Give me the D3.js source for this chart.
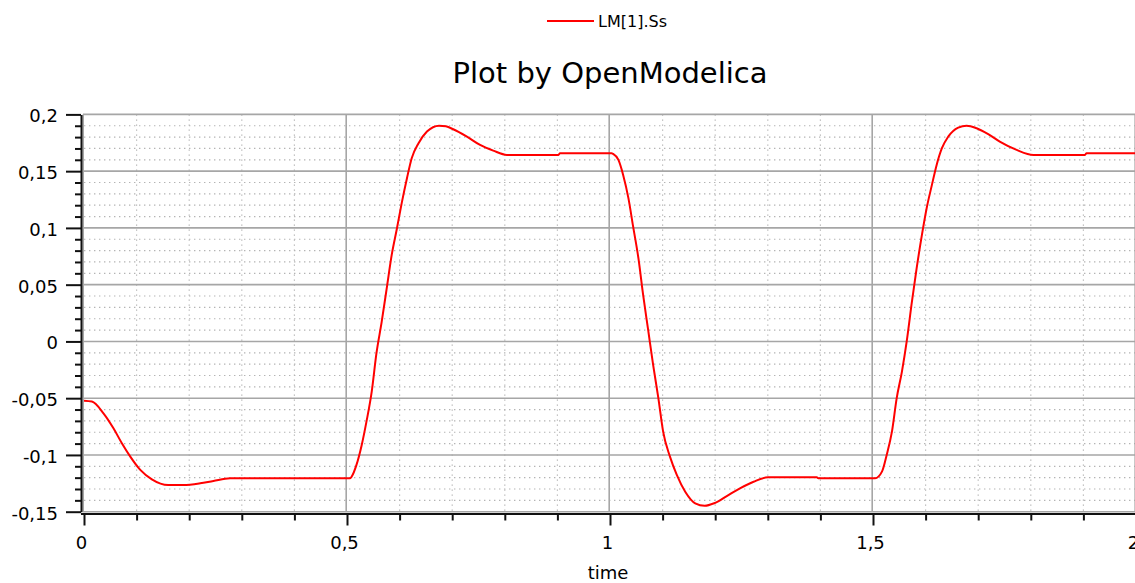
<!DOCTYPE html>
<html>
<head>
<meta charset="utf-8">
<script src="https://cdn.jsdelivr.net/npm/d3@7"></script>
<style>
  html, body { margin: 0; padding: 0; background: #fff; }
  svg { display: block; }
  text { font-family: "DejaVu Sans", Verdana, sans-serif; fill: #000; }
</style>
</head>
<body>
<svg id="chart" width="1135" height="583"></svg>
<script>
// Simulation output: LM[1].Ss over time
const time = [
  0, 0.015, 0.037, 0.056, 0.072, 0.088, 0.107, 0.129, 0.160, 0.189, 0.221, 0.246, 0.278, 0.40, 0.506,
  0.509, 0.518, 0.528, 0.537, 0.547, 0.556, 0.566, 0.576, 0.585, 0.595, 0.604, 0.614, 0.623, 0.636, 0.652,
  0.675, 0.688, 0.702, 0.728, 0.753, 0.778, 0.804, 0.85, 0.902, 0.905, 0.95, 1.003,
  1.006, 1.016, 1.025, 1.035, 1.044, 1.054, 1.063, 1.073, 1.082, 1.092, 1.101, 1.114, 1.127, 1.143, 1.162,
  1.180, 1.198, 1.222, 1.247, 1.273, 1.301, 1.35, 1.393, 1.396, 1.45, 1.504,
  1.517, 1.526, 1.536, 1.545, 1.555, 1.564, 1.574, 1.583, 1.593, 1.602, 1.612, 1.621, 1.631, 1.643, 1.662,
  1.678, 1.697, 1.719, 1.741, 1.773, 1.805, 1.85, 1.903, 1.906, 1.95, 2.0
];
const ss = [
  -0.0522, -0.053, -0.0633, -0.0765, -0.0897, -0.1015, -0.1132, -0.1215, -0.1265, -0.1265, -0.125, -0.1229, -0.1206, -0.1206, -0.1206,
  -0.119, -0.1088, -0.0912, -0.0707, -0.0442, -0.0104, 0.0174, 0.0483, 0.0762, 0.0997, 0.1218, 0.1438, 0.1614, 0.1746, 0.1849,
  0.1901, 0.1895, 0.1869, 0.1804, 0.1731, 0.1681, 0.1643, 0.1643, 0.1643, 0.1658, 0.1658, 0.1658,
  0.1652, 0.1599, 0.1467, 0.1262, 0.1011, 0.0733, 0.041, 0.0086, -0.0207, -0.0501, -0.0795, -0.1015, -0.1176, -0.1324, -0.1426,
  -0.1448, -0.1426, -0.1362, -0.1294, -0.1236, -0.1197, -0.1197, -0.1197, -0.1206, -0.1206, -0.1206,
  -0.1147, -0.100, -0.0795, -0.0501, -0.0266, -0.0002, 0.035, 0.0645, 0.0938, 0.1173, 0.1379, 0.1555, 0.1702, 0.1804, 0.1884,
  0.1901, 0.1878, 0.1826, 0.176, 0.1687, 0.1643, 0.1643, 0.1643, 0.1658, 0.1658, 0.1658
];

const xTicks = [0, 0.5, 1, 1.5, 2];
const xTickLabels = ["0", "0,5", "1", "1,5", "2"];
const yTicks = [-0.15, -0.1, -0.05, 0, 0.05, 0.1, 0.15, 0.2];
const yTickLabels = ["-0,15", "-0,1", "-0,05", "0", "0,05", "0,1", "0,15", "0,2"];
const xMinorStep = 0.1;
const yMinorStep = 0.01;

const seriesName = "LM[1].Ss";
const titleText = "Plot by OpenModelica";
const xTitle = "time";

// ---- layout ----
const plot = { left: 84, right: 1136, top: 114.4, bottom: 511.7 };
const svg = d3.select("#chart");

const x = d3.scaleLinear().domain([0, 2]).range([plot.left, plot.right]);
const y = d3.scaleLinear().domain([-0.15, 0.2]).range([plot.bottom, plot.top]);

const isMajor = (v, step) => Math.abs(v / step - Math.round(v / step)) < 1e-6;
const xMinor = d3.range(0, 2 + 1e-9, xMinorStep).map(v => +v.toFixed(3)).filter(v => !isMajor(v, 0.5));
const yMinor = d3.range(-0.15, 0.2 + 1e-9, yMinorStep).map(v => +v.toFixed(3)).filter(v => !isMajor(v, 0.05));

// ---- grid ----
const grid = svg.append("g");
grid.selectAll("line.hminor").data(yMinor).join("line")
  .attr("x1", plot.left).attr("x2", plot.right)
  .attr("y1", d => y(d)).attr("y2", d => y(d))
  .attr("stroke", "#b4b4b4").attr("stroke-width", 1.2)
  .attr("stroke-dasharray", "1.4,3.6");
grid.selectAll("line.vminor").data(xMinor).join("line")
  .attr("x1", d => x(d)).attr("x2", d => x(d))
  .attr("y1", plot.top).attr("y2", plot.bottom)
  .attr("stroke", "#b4b4b4").attr("stroke-width", 1.2)
  .attr("stroke-dasharray", "1.4,3.6");
grid.selectAll("line.hmajor").data(yTicks).join("line")
  .attr("x1", plot.left - 1).attr("x2", plot.right)
  .attr("y1", d => y(d)).attr("y2", d => y(d))
  .attr("stroke", "#a6a6a6").attr("stroke-width", 1.6);
grid.selectAll("line.vmajor").data(xTicks).join("line")
  .attr("x1", d => x(d) - 0.8).attr("x2", d => x(d) - 0.8)
  .attr("y1", plot.top).attr("y2", plot.bottom)
  .attr("stroke", "#a6a6a6").attr("stroke-width", 1.6);

// ---- curve ----
svg.append("clipPath").attr("id", "clip")
  .append("rect").attr("x", plot.left).attr("y", plot.top - 2)
  .attr("width", plot.right - plot.left).attr("height", plot.bottom - plot.top + 2);

const line = d3.line()
  .x((d, i) => x(time[i]))
  .y((d, i) => y(ss[i]))
  .curve(d3.curveMonotoneX);

svg.append("path")
  .datum(ss)
  .attr("clip-path", "url(#clip)")
  .attr("fill", "none")
  .attr("stroke", "#ff0000")
  .attr("stroke-width", 2)
  .attr("stroke-linejoin", "round")
  .attr("d", line);

// ---- axes ----
const axisColor = "#111";
function styleAxis(g) {
  g.select(".domain").attr("stroke", axisColor).attr("stroke-width", 2);
  g.selectAll(".tick line").attr("stroke", axisColor).attr("stroke-width", 2);
}

const yAxisG = svg.append("g").attr("transform", "translate(81,0)");
yAxisG.call(d3.axisLeft(y).tickValues(yTicks)
    .tickFormat((d, i) => yTickLabels[i]).tickSize(15).tickSizeOuter(0).tickPadding(8))
  .call(styleAxis);
yAxisG.selectAll(".tick text")
  .attr("font-size", 18).attr("font-family", "DejaVu Sans, sans-serif")
  .attr("fill", "#000").attr("dy", "0.42em");
svg.append("g").attr("transform", "translate(81,0)")
  .call(d3.axisLeft(y).tickValues(yMinor).tickFormat("").tickSize(6).tickSizeOuter(0))
  .call(styleAxis)
  .call(g => g.select(".domain").remove());

const xAxisG = svg.append("g").attr("transform", `translate(0,${plot.bottom + 1.8})`);
xAxisG.call(d3.axisBottom(x).tickValues(xTicks)
    .tickFormat((d, i) => xTickLabels[i]).tickSize(12).tickSizeOuter(0).tickPadding(11))
  .call(styleAxis);
xAxisG.select(".domain").attr("d", `M${plot.left - 3},0.5H${plot.right}`);
xAxisG.selectAll(".tick text")
  .attr("font-size", 18).attr("font-family", "DejaVu Sans, sans-serif")
  .attr("fill", "#000").attr("dx", -3);
svg.append("g").attr("transform", `translate(0,${plot.bottom + 1.8})`)
  .call(d3.axisBottom(x).tickValues(xMinor).tickFormat("").tickSize(7).tickSizeOuter(0))
  .call(styleAxis)
  .call(g => g.select(".domain").remove());

// ---- titles ----
svg.append("text")
  .attr("x", 610).attr("y", 83)
  .attr("text-anchor", "middle")
  .attr("font-size", 29)
  .text(titleText);

svg.append("text")
  .attr("x", 608).attr("y", 579)
  .attr("text-anchor", "middle")
  .attr("font-size", 18)
  .text(xTitle);

// ---- legend ----
const legend = svg.append("g");
legend.append("line")
  .attr("x1", 547).attr("x2", 594).attr("y1", 21).attr("y2", 21)
  .attr("stroke", "#ff0000").attr("stroke-width", 2);
legend.append("text")
  .attr("x", 598).attr("y", 27)
  .attr("font-size", 16)
  .text(seriesName);
</script>
</body>
</html>
